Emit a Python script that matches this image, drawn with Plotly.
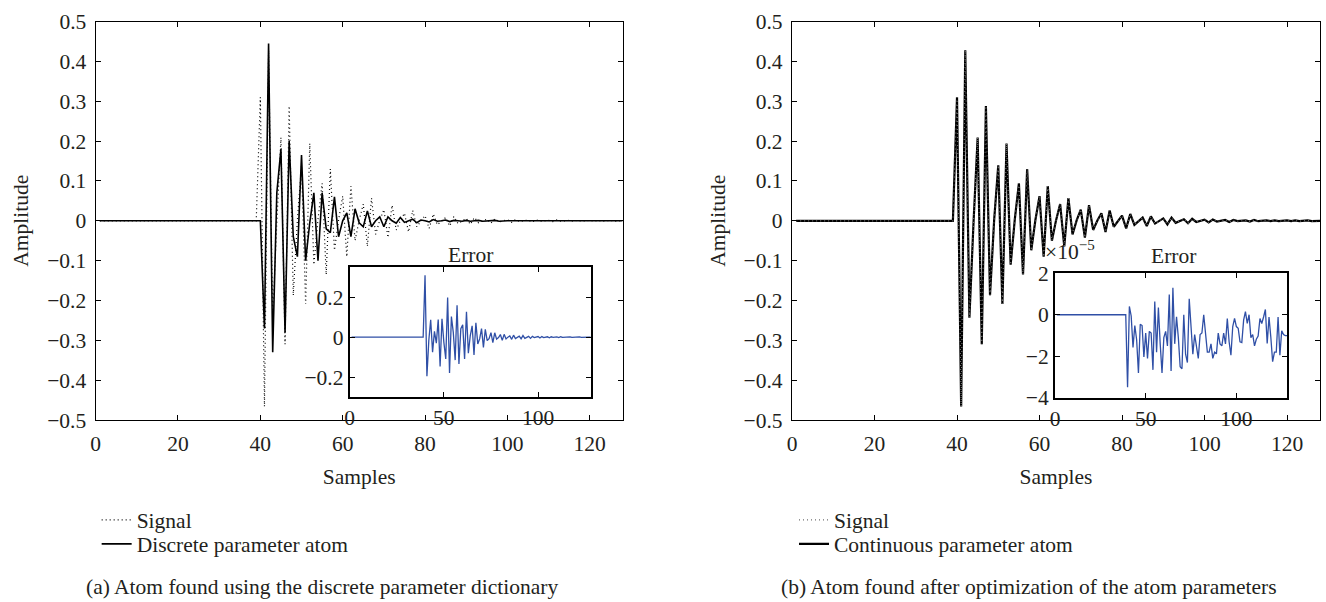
import plotly.graph_objects as go

# ---- data -------------------------------------------------------------
samples = list(range(1, 129))

# measured signal (damped oscillation starting at sample 40)
signal = [0.0] * 39 + [
    0.310, -0.466, 0.428, -0.243, -0.005,
    0.209, -0.310, 0.288, -0.187, 0.002,
    0.139, -0.209, 0.194, -0.110, 0.003,
    0.094, -0.135, 0.130, -0.074, 0.002,
    0.062, -0.090, 0.087, -0.050, 0.001,
    0.042, -0.064, 0.057, -0.034, 0.001,
    0.028, -0.042, 0.039, -0.023, 0.000,
    0.019, -0.028, 0.026, -0.015, 0.000,
    0.013, -0.019, 0.017, -0.010, 0.000,
    0.008, -0.013, 0.011, -0.007, 0.000,
    0.006, -0.009, 0.008, -0.005, 0.000,
    0.004, -0.006, 0.005, -0.003, 0.000,
    0.003, -0.004, 0.003, -0.002, 0.000,
    0.002, -0.003, 0.002, -0.001, 0.000,
    0.001, -0.002, 0.002, -0.001, 0.000,
    0.001, -0.001, 0.001, -0.001, 0.000,
    0.001, -0.001, 0.001, -0.001, 0.000,
    0.001, -0.001, 0.000, 0.000,
]

# atom picked from the discrete parameter dictionary
discrete_atom = [0.0] * 39 + [
    0.000, -0.270, 0.445, -0.330, 0.070,
    0.180, -0.280, 0.200, -0.040, -0.090,
    0.165, -0.100, -0.005, 0.070, -0.100,
    0.070, -0.020, -0.030, 0.060, -0.040,
    0.000, 0.020, -0.040, 0.030, -0.005,
    -0.015, 0.025, -0.015, 0.000, 0.010,
    -0.015, 0.010, 0.000, -0.006, 0.008,
    -0.004, 0.000, 0.004, -0.005, 0.002,
    0.000, -0.003, 0.003, -0.001, 0.000,
    0.002, -0.002, 0.001, 0.000, -0.001,
    0.001, -0.001, 0.000, 0.001, -0.001,
    0.000, 0.000, 0.001, -0.001, 0.000,
    0.000, 0.000, 0.000, 0.000, 0.000,
    0.000, 0.000, 0.000, 0.000, 0.000,
    0.000, 0.000, 0.000, 0.000, 0.000,
    0.000, 0.000, 0.000, 0.000, 0.000,
    0.000, 0.000, 0.000, 0.000, 0.000,
    0.000, 0.000, 0.000, 0.000,
]

# residual of the optimized (continuous parameter) atom, in units of 1e-5
optimized_error_e5 = [0.0] * 39 + [
    -3.49, 0.40, -0.06, -1.57, -0.52, -1.20, -2.80, -0.46, -0.52, -2.03,
    -0.88, -2.10, -0.80, -0.88, -2.65, 0.63, -1.80, 0.35, -1.40, -2.80,
    -1.10, -0.80, -1.50, 0.97, -2.70, 1.30, -1.40, -0.10, -1.10, -2.50,
    -2.60, 0.00, -1.90, -2.30, 0.77, -0.46, -1.90, -0.95, -1.57, -2.10,
    -0.95, -0.88, 0.00, -1.08, -1.80, -1.80, -1.40, -2.10, -1.80, -1.88,
    -0.88, -1.40, -1.50, -0.88, -1.40, -0.18, -1.30, -1.95, -0.57, -0.18,
    -0.57, -0.65, -1.30, -1.34, -0.26, 0.15, -0.42, 0.00, -1.10, -0.95,
    -1.50, -1.18, -1.03, -0.18, -0.42, -0.11, 0.25, -1.38, -0.11, -1.08,
    -2.26, -1.80, -1.80, -0.11, -1.95, -0.77, -0.95, -1.00, -1.00,
]

x_ticks = [0, 20, 40, 60, 80, 100, 120]
y_ticks = [0.5, 0.4, 0.3, 0.2, 0.1, 0.0, -0.1, -0.2, -0.3, -0.4, -0.5]
y_tick_text = ["0.5", "0.4", "0.3", "0.2", "0.1", "0", "\u22120.1", "\u22120.2",
               "\u22120.3", "\u22120.4", "\u22120.5"]
inset_x_ticks = [0, 50, 100]
inset_a_ticks = [0.2, 0.0, -0.2]
inset_a_text = ["0.2", "0", "\u22120.2"]
inset_b_ticks = [2, 0, -2, -4]
inset_b_text = ["2", "0", "\u22122", "\u22124"]

# derived series
discrete_error = [s - a for s, a in zip(signal, discrete_atom)]
continuous_atom = [s - e * 1e-5 for s, e in zip(signal, optimized_error_e5)]

# ---- figure -----------------------------------------------------------
W, H = 1326, 602
FONT = "Liberation Serif"
FS = 21.5
TXT = "#231f20"
BLUE = "#2f4fa6"


def px(x):
    return x / W


def py(y):
    return 1 - y / H


def tfont(size=FS):
    return dict(family=FONT, size=size, color=TXT)


fig = go.Figure()

# left main panel
fig.add_trace(go.Scatter(x=samples, y=signal, mode="lines", name="Signal",
                         line=dict(color="black", width=1.2, dash="1px,3px"),
                         xaxis="x", yaxis="y", legend="legend"))
fig.add_trace(go.Scatter(x=samples, y=discrete_atom, mode="lines",
                         name="Discrete parameter atom",
                         line=dict(color="black", width=1.6),
                         xaxis="x", yaxis="y", legend="legend2"))
# right main panel
fig.add_trace(go.Scatter(x=samples, y=continuous_atom, mode="lines",
                         name="Continuous parameter atom",
                         line=dict(color="black", width=2.2),
                         xaxis="x2", yaxis="y2", legend="legend4"))
fig.add_trace(go.Scatter(x=samples, y=signal, mode="lines", name="Signal",
                         line=dict(color="#6e6e6e", width=1.2, dash="1px,3px"),
                         xaxis="x2", yaxis="y2", legend="legend3"))
# insets
fig.add_trace(go.Scatter(x=samples, y=discrete_error, mode="lines",
                         line=dict(color=BLUE, width=1.3), showlegend=False,
                         xaxis="x3", yaxis="y3"))
fig.add_trace(go.Scatter(x=samples, y=optimized_error_e5, mode="lines",
                         line=dict(color=BLUE, width=1.3), showlegend=False,
                         xaxis="x4", yaxis="y4"))

main_axis = dict(showline=True, linecolor="black", linewidth=1.2, mirror="ticks",
                 ticks="inside", ticklen=5, tickcolor="black", showgrid=False,
                 zeroline=False, tickfont=tfont(), ticklabelstandoff=4)
inset_axis = dict(showline=True, linecolor="black", linewidth=2, mirror="ticks",
                  ticks="inside", ticklen=5, tickcolor="black", showgrid=False,
                  zeroline=False, tickfont=tfont(), ticklabelstandoff=0)

L_X, L_R, R_X, R_R = 91, 620, 790, 1320
TOP, BOT = 11, 426


def legend_box(x, y):
    # one legend row, its middle placed at pixel row y
    return dict(x=px(x), y=py(y), xanchor="left", yanchor="middle",
                bgcolor="rgba(0,0,0,0)", font=tfont(), tracegroupgap=0,
                itemwidth=30)


fig.update_layout(
    width=W, height=H, margin=dict(l=0, r=0, t=0, b=0),
    paper_bgcolor="white", plot_bgcolor="white",
    font=tfont(),
    xaxis=dict(main_axis, domain=[px(L_X), px(L_R)], range=[0, 128],
               tickvals=x_ticks, anchor="y",
               title=dict(text="Samples", standoff=14, font=tfont())),
    yaxis=dict(main_axis, domain=[py(BOT), py(TOP)], range=[-0.5, 0.5],
               tickvals=y_ticks, ticktext=y_tick_text, anchor="x",
               title=dict(text="Amplitude", standoff=12, font=tfont())),
    xaxis2=dict(main_axis, domain=[px(R_X), px(R_R)], range=[0, 128],
                tickvals=x_ticks, anchor="y2",
                title=dict(text="Samples", standoff=14, font=tfont())),
    yaxis2=dict(main_axis, domain=[py(BOT), py(TOP)], range=[-0.5, 0.5],
                tickvals=y_ticks, ticktext=y_tick_text, anchor="x2",
                title=dict(text="Amplitude", standoff=12, font=tfont())),
    xaxis3=dict(inset_axis, domain=[px(346), px(588)], range=[0, 128],
                tickvals=inset_x_ticks, anchor="y3"),
    yaxis3=dict(inset_axis, domain=[py(402), py(267)], range=[-0.3, 0.35],
                tickvals=inset_a_ticks, ticktext=inset_a_text, anchor="x3"),
    xaxis4=dict(inset_axis, domain=[px(1054), px(1287)], range=[0, 128],
                tickvals=inset_x_ticks, anchor="y4"),
    yaxis4=dict(inset_axis, domain=[py(403), py(273)], range=[-4, 2],
                tickvals=inset_b_ticks, ticktext=inset_b_text, anchor="x4"),
    legend=legend_box(92, 530),
    legend2=legend_box(92, 555),
    legend3=legend_box(792, 530),
    legend4=legend_box(792, 555),
    showlegend=True,
)

annotations = [
    dict(text="Error", x=px(467), y=py(254), xanchor="center", yanchor="middle"),
    dict(text="Error", x=px(1173), y=py(255), xanchor="center", yanchor="middle"),
    dict(text="\u00d710<sup>\u22125</sup>", x=px(1042), y=py(249),
         xanchor="left", yanchor="middle"),
    dict(text="(a) Atom found using the discrete parameter dictionary",
         x=px(79), y=py(600), xanchor="left", yanchor="middle"),
    dict(text="(b) Atom found after optimization of the atom parameters",
         x=px(777), y=py(600), xanchor="left", yanchor="middle"),
]
for a in annotations:
    a.update(xref="paper", yref="paper", showarrow=False, font=tfont())
fig.update_layout(annotations=annotations)

fig.write_html("out.html")
